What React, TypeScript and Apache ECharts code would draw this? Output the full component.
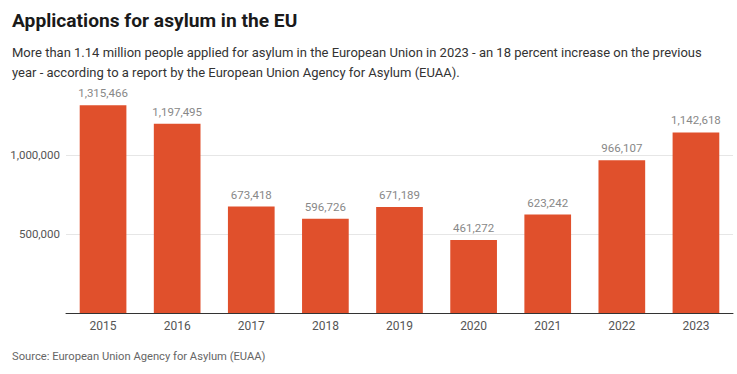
import React, { useEffect, useRef } from "react";
import * as echarts from "echarts";

const titleText = "Applications for asylum in the EU";
const subtitleLines = [
  "More than 1.14 million people applied for asylum in the European Union in 2023 - an 18 percent increase on the previous",
  "year - according to a report by the European Union Agency for Asylum (EUAA).",
];
const sourceText = "Source: European Union Agency for Asylum (EUAA)";
const years = ["2015", "2016", "2017", "2018", "2019", "2020", "2021", "2022", "2023"];
const applications = [1315466, 1197495, 673418, 596726, 671189, 461272, 623242, 966107, 1142618];
const yMax = 1400000;
const yInterval = 500000;

const FONT = "Roboto, 'Noto Sans', sans-serif";
const fmt = (v: number) => v.toLocaleString("en-US");

export default function App() {
  const ref = useRef<HTMLDivElement>(null);
  useEffect(() => {
    if (!ref.current) return;
    const chart = echarts.init(ref.current, null, { renderer: "svg" });
    chart.setOption({
      animation: false,
      backgroundColor: "#ffffff",
      title: [
        {
          text: titleText,
          left: 12,
          top: 11,
          padding: 0,
          textStyle: { fontFamily: FONT, fontSize: 19.2, fontWeight: "bold", color: "#1a1a1a" },
        },
        {
          text: subtitleLines.join("\n"),
          left: 12,
          top: 42,
          padding: 0,
          textStyle: { fontFamily: FONT, fontSize: 13, fontWeight: "normal", color: "#333333", lineHeight: 20.5 },
        },
        {
          text: sourceText,
          left: 12,
          top: 351,
          padding: 0,
          textStyle: { fontFamily: FONT, fontSize: 11.2, fontWeight: "normal", color: "#666666" },
        },
      ],
      grid: { left: 66, right: 4, top: 313 - 221.2, bottom: 61, containLabel: false },
      xAxis: {
        type: "category",
        data: years,
        axisLine: { show: true, lineStyle: { color: "#333333", width: 1 } },
        axisTick: { show: false },
        axisLabel: { fontFamily: FONT, fontSize: 12, color: "#555555", margin: 7 },
      },
      yAxis: {
        type: "value",
        min: 0,
        max: yMax,
        interval: yInterval,
        axisLine: { show: false },
        axisTick: { show: false },
        splitLine: { show: true, showMinLine: false, showMaxLine: false, lineStyle: { color: "#e6e6e6", width: 1 } },
        axisLabel: {
          fontFamily: FONT,
          fontSize: 11.5,
          color: "#555555",
          margin: 6,
          showMinLabel: false,
          showMaxLabel: false,
          formatter: (v: number) => fmt(v),
        },
      },
      series: [
        {
          type: "bar",
          data: applications,
          barCategoryGap: "37%",
          itemStyle: { color: "#e0502c" },
          label: {
            show: true,
            position: "top",
            distance: 6,
            fontFamily: FONT,
            fontSize: 11.5,
            color: "#888888",
            formatter: (p: any) => fmt(p.value),
          },
        },
      ],
    });
    return () => chart.dispose();
  }, []);
  return <div ref={ref} style={{ position: "fixed", left: 0, top: 0, width: 737, height: 374 }} />;
}
